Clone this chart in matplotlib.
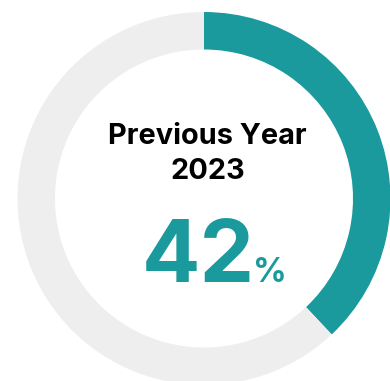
import matplotlib
matplotlib.use("Agg")
import matplotlib.pyplot as plt

# dados
titulo = ["Previous Year", "2023"]
valor_txt = "42"
arco = [38, 62]          # fracao pintada do anel (teal / cinza)
cores = ["#1a9a9c", "#eeeeee"]

W, H = 390, 381
fig = plt.figure(figsize=(W / 100, H / 100), dpi=100)
ax = fig.add_axes([0, 0, 1, 1])

cx, cy = 204, H - 198.5
R = 186.5
ax.pie(arco, colors=cores, startangle=90, counterclock=False,
       center=(cx, cy), radius=R,
       wedgeprops=dict(width=37.5, linewidth=0))

ax.set_xlim(0, W)
ax.set_ylim(0, H)
ax.set_aspect("equal")
ax.axis("off")

fam = ["Inter", "DejaVu Sans"]
ax.text(207, H - 144, titulo[0], ha="center", va="baseline",
        fontsize=20.8, weight="bold", color="black", family=fam)
ax.text(208, H - 179, titulo[1], ha="center", va="baseline",
        fontsize=20.8, weight="bold", color="black", family=fam)
ax.text(255, H - 282, valor_txt, ha="right", va="baseline",
        fontsize=62.4, weight="bold", color=cores[0], family=fam)
ax.text(253, H - 282, "%", ha="left", va="baseline",
        fontsize=24, weight="bold", color=cores[0], family=fam)

fig.savefig("out.png", dpi=100)
